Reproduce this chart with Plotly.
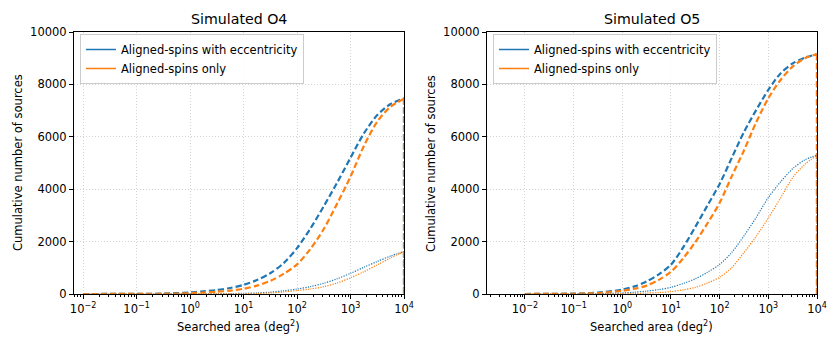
import plotly.graph_objects as go

# ---------------- data ----------------
AREA = [0.01, 0.0316, 0.1, 0.316, 1, 1.78, 3.16, 5.62, 10, 17.8, 31.6, 56.2,
        100, 178, 316, 562, 1000, 1780, 3160, 5620, 10000]

O4_ECC_ALL = [0, 2, 5, 15, 60, 100, 150, 230, 350, 530, 790, 1180,
              1750, 2500, 3350, 4250, 5200, 6130, 6830, 7250, 7470]
O4_ALN_ALL = [0, 1, 3, 8, 30, 55, 85, 130, 200, 320, 500, 770,
              1130, 1720, 2480, 3450, 4480, 5650, 6580, 7150, 7450]
O4_ECC_SUB = [0, 0, 0, 0, 5, 7, 10, 15, 25, 40, 70, 120,
              190, 280, 410, 580, 790, 1020, 1240, 1450, 1620]
O4_ALN_SUB = [0, 0, 0, 0, 2, 3, 5, 7, 10, 20, 40, 80,
              130, 190, 280, 420, 620, 850, 1110, 1380, 1620]

O5_ECC_ALL = [0, 5, 15, 50, 170, 290, 480, 750, 1120, 1780, 2560, 3380,
              4200, 5200, 6180, 7020, 7790, 8420, 8800, 9020, 9150]
O5_ALN_ALL = [0, 3, 10, 35, 120, 200, 320, 540, 850, 1360, 1980, 2700,
              3480, 4500, 5480, 6550, 7470, 8170, 8680, 9000, 9150]
O5_ECC_SUB = [0, 0, 2, 10, 40, 70, 110, 170, 255, 400, 580, 830,
              1130, 1590, 2220, 2920, 3680, 4280, 4780, 5120, 5300]
O5_ALN_SUB = [0, 0, 0, 3, 10, 20, 35, 55, 90, 160, 250, 420,
              640, 1010, 1580, 2200, 2900, 3660, 4440, 4950, 5300]

TITLES = ["Simulated O4", "Simulated O5"]
SERIES_NAMES = ["Aligned-spins with eccentricity", "Aligned-spins only"]
X_TICK_EXP = [-2, -1, 0, 1, 2, 3, 4]
X_TICK_TEXT = ["10<sup>\u22122</sup>", "10<sup>\u22121</sup>", "10<sup>0</sup>",
               "10<sup>1</sup>", "10<sup>2</sup>", "10<sup>3</sup>", "10<sup>4</sup>"]
Y_TICKS = [0, 2000, 4000, 6000, 8000, 10000]
Y_TICK_TEXT = ["0", "2000", "4000", "6000", "8000", "10000"]

BLUE = "#1f77b4"
ORANGE = "#ff7f0e"
FONT = "DejaVu Sans"

W, H = 840, 353


def px_x(p):
    return p / W


def px_y(p):
    return 1 - p / H


fig = go.Figure()


def add_panel(ax_suffix, legend_name, series):
    xa = "x" + ax_suffix
    ya = "y" + ax_suffix
    for (vals, color, kind) in series:
        if kind == "dash":
            line = dict(color=color, width=2.2, dash="6px,3px")
        else:
            line = dict(color=color, width=1.2, dash="1.2px,1.3px")
        fig.add_trace(go.Scatter(x=AREA, y=vals, mode="lines",
                                 line=dict(shape="spline", smoothing=0.8, **line),
                                 xaxis=xa, yaxis=ya, showlegend=False,
                                 hoverinfo="skip"))
        # final step edge of the cumulative histogram
        fig.add_trace(go.Scatter(x=[AREA[-1], AREA[-1]], y=[vals[-1], 0], mode="lines",
                                 line=line, xaxis=xa, yaxis=ya, showlegend=False,
                                 hoverinfo="skip"))
    for name, color in zip(SERIES_NAMES, [BLUE, ORANGE]):
        fig.add_trace(go.Scatter(x=[None], y=[None], mode="lines", name=name,
                                 line=dict(color=color, width=1.5),
                                 xaxis=xa, yaxis=ya, legend=legend_name,
                                 showlegend=True))


add_panel("", "legend", [
    (O4_ECC_ALL, BLUE, "dash"), (O4_ALN_ALL, ORANGE, "dash"),
    (O4_ECC_SUB, BLUE, "dot"), (O4_ALN_SUB, ORANGE, "dot")])
add_panel("2", "legend2", [
    (O5_ECC_ALL, BLUE, "dash"), (O5_ALN_ALL, ORANGE, "dash"),
    (O5_ECC_SUB, BLUE, "dot"), (O5_ALN_SUB, ORANGE, "dot")])

tickfont = dict(family=FONT, size=11.5, color="black")
GRID = dict(showgrid=True, gridcolor="#d2d2d2", gridwidth=1, griddash="1px,2px")


def minor_vals(lo, hi):
    out = []
    for e in range(lo, hi):
        for m in range(2, 10):
            out.append(m * 10 ** e)
    return out


def xaxis(domain, rng, anchor):
    return dict(
        type="log", domain=domain, range=rng, anchor=anchor,
        tickmode="array", tickvals=[10 ** e for e in X_TICK_EXP], ticktext=X_TICK_TEXT,
        ticks="outside", ticklen=4, tickwidth=1, tickcolor="black",
        tickfont=tickfont, showline=True, linecolor="black", linewidth=1, mirror=True,
        zeroline=False, automargin=False,
        minor=dict(tickmode="array", tickvals=minor_vals(-3, 4), ticks="outside",
                   ticklen=2, tickwidth=0.8, tickcolor="black", showgrid=False),
        **GRID,
    )


def yaxis(domain, anchor):
    return dict(
        domain=domain, range=[0, 10000], anchor=anchor,
        tickmode="array", tickvals=Y_TICKS, ticktext=Y_TICK_TEXT,
        ticks="outside", ticklen=4, tickwidth=1, tickcolor="black",
        tickfont=tickfont, showline=True, linecolor="black", linewidth=1, mirror=True,
        zeroline=False, automargin=False,
        **GRID,
    )


ydom = [px_y(294), px_y(32)]

legend_common = dict(
    bgcolor="rgba(255,255,255,0.85)", bordercolor="#cccccc", borderwidth=1,
    font=dict(family=FONT, size=11.5, color="black"),
    xanchor="left", yanchor="top", tracegroupgap=0, itemwidth=30,
)

annotations = []
for cx, title in zip([239, 652], TITLES):
    annotations.append(dict(text=title, x=px_x(cx), y=px_y(19), xref="paper", yref="paper",
                            showarrow=False, xanchor="center", yanchor="middle",
                            font=dict(family=FONT, size=14.2, color="black")))
for cx in [238.5, 651]:
    annotations.append(dict(text="Searched area (deg<sup>2</sup>)", x=px_x(cx), y=px_y(326),
                            xref="paper", yref="paper", showarrow=False,
                            xanchor="center", yanchor="middle",
                            font=dict(family=FONT, size=11.5, color="black")))
for cx in [18, 431]:
    annotations.append(dict(text="Cumulative number of sources", x=px_x(cx), y=px_y(163),
                            xref="paper", yref="paper", showarrow=False, textangle=-90,
                            xanchor="center", yanchor="middle",
                            font=dict(family=FONT, size=11.5, color="black")))

fig.update_layout(
    width=W, height=H,
    margin=dict(l=0, r=0, t=0, b=0),
    paper_bgcolor="white", plot_bgcolor="white",
    font=dict(family=FONT, size=11.5, color="black"),
    xaxis=xaxis([px_x(74), px_x(404)], [-2.17, 4.0], "y"),
    yaxis=yaxis(ydom, "x"),
    xaxis2=xaxis([px_x(487), px_x(817)], [-2.78, 4.0], "y2"),
    yaxis2=yaxis(ydom, "x2"),
    legend=dict(x=px_x(80), y=px_y(34), **legend_common),
    legend2=dict(x=px_x(493), y=px_y(34), **legend_common),
    annotations=annotations,
    showlegend=True,
)

fig.write_html("out.html", config={"displayModeBar": False},
               post_script="document.body.style.margin='0';document.body.style.padding='0';")
